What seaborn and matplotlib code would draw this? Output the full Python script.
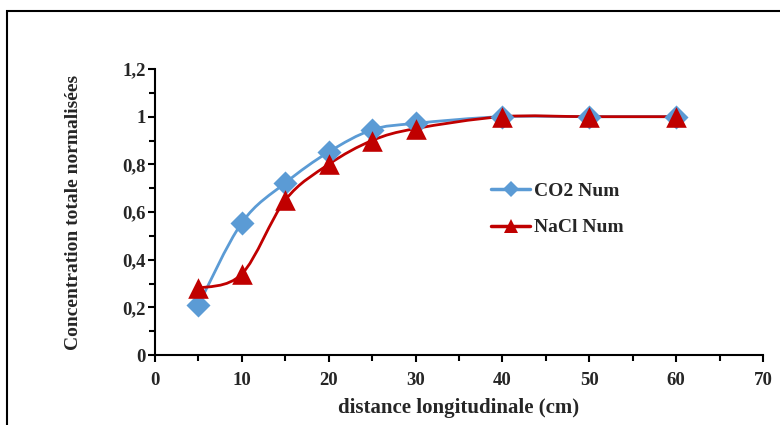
"""Concentration totale normalisée vs distance longitudinale (CO2 / NaCl)."""

import matplotlib
matplotlib.use("Agg")
import matplotlib.pyplot as plt
from matplotlib.path import Path
from matplotlib.patches import PathPatch, Rectangle
from matplotlib.lines import Line2D
from matplotlib.ticker import MultipleLocator, FuncFormatter
import seaborn as sns
import pandas as pd

distance = [5, 10, 15, 20, 25, 30, 40, 50, 60]
co2_num = [0.21, 0.555, 0.722, 0.852, 0.945, 0.972, 1.0, 1.0, 1.0]
nacl_num = [0.28, 0.34, 0.65, 0.80, 0.90, 0.95, 1.0, 1.0, 1.0]
series_names = ["CO2 Num", "NaCl Num"]
x_ticks = [0, 10, 20, 30, 40, 50, 60, 70]
y_ticks = [0, 0.2, 0.4, 0.6, 0.8, 1.0, 1.2]

BLUE = "#5B9BD5"
RED = "#C00000"
FONT = ["Liberation Serif", "DejaVu Serif"]


def smooth_path(xs, ys):
    """Excel-like smoothed line: cubic Bezier through every point."""
    pts = list(zip(xs, ys))
    verts = [pts[0]]
    codes = [Path.MOVETO]
    n = len(pts)
    for i in range(n - 1):
        p0 = pts[max(i - 1, 0)]
        p1 = pts[i]
        p2 = pts[i + 1]
        p3 = pts[min(i + 2, n - 1)]
        c1 = (p1[0] + (p2[0] - p0[0]) / 6, p1[1] + (p2[1] - p0[1]) / 6)
        c2 = (p2[0] - (p3[0] - p1[0]) / 6, p2[1] - (p3[1] - p1[1]) / 6)
        verts += [c1, c2, p2]
        codes += [Path.CURVE4] * 3
    return Path(verts, codes)


sns.set_style("ticks")
plt.rcParams["font.family"] = FONT
plt.rcParams["font.weight"] = "bold"

fig = plt.figure(figsize=(7.8, 4.25), dpi=100)
ax = fig.add_axes([0.1987, 0.1647, 0.7795, 0.6729])

for vals, color, marker, size in [(co2_num, BLUE, "D", 150), (nacl_num, RED, "^", 220)]:
    ax.add_patch(PathPatch(smooth_path(distance, vals), facecolor="none",
                           edgecolor=color, lw=2, zorder=2))
    pts = pd.DataFrame({"distance": distance, "value": vals})
    sns.scatterplot(data=pts, x="distance", y="value", color=color, marker=marker,
                    s=size, linewidth=0, ax=ax, legend=False, zorder=3)

ax.set_xlim(0, 70)
ax.set_ylim(0, 1.2)
ax.set_xticks(x_ticks)
ax.set_yticks(y_ticks)
ax.xaxis.set_minor_locator(MultipleLocator(5))
ax.yaxis.set_minor_locator(MultipleLocator(0.1))
ax.yaxis.set_major_formatter(FuncFormatter(lambda v, p: f"{v:g}".replace(".", ",")))
ax.tick_params(which="both", direction="out", width=1.5, color="black", labelsize=13.5)
ax.tick_params(which="major", length=5)
ax.tick_params(which="minor", length=4)
ax.tick_params(axis="y", pad=1.5)
ax.tick_params(axis="x", pad=7)
for lab in ax.get_xticklabels() + ax.get_yticklabels():
    lab.set_fontweight("bold")
sns.despine(ax=ax)
for side in ("left", "bottom"):
    ax.spines[side].set_linewidth(1.5)
    ax.spines[side].set_color("black")

ax.set_xlabel("distance longitudinale (cm)", fontsize=15, fontweight="bold", labelpad=7)
ax.set_ylabel("Concentration totale normalisées", fontsize=14, fontweight="bold", labelpad=29)

handles = [Line2D([], [], color=BLUE, lw=2.5, marker="D", markersize=8, markeredgewidth=0),
           Line2D([], [], color=RED, lw=2.5, marker="^", markersize=10, markeredgewidth=0)]
ax.legend(handles, series_names, loc="upper left", bbox_to_anchor=(0.54, 0.63),
          frameon=False, prop={"family": FONT, "weight": "bold", "size": 14},
          handlelength=2.0, handletextpad=0.2, labelspacing=0.95, borderaxespad=0)

fig.patches.append(Rectangle((7 / 780, -0.1), 1.2, 1 - 11 / 425 + 0.1,
                             transform=fig.transFigure, fill=False,
                             edgecolor="black", lw=1.5))

fig.savefig("out.png", dpi=100)
